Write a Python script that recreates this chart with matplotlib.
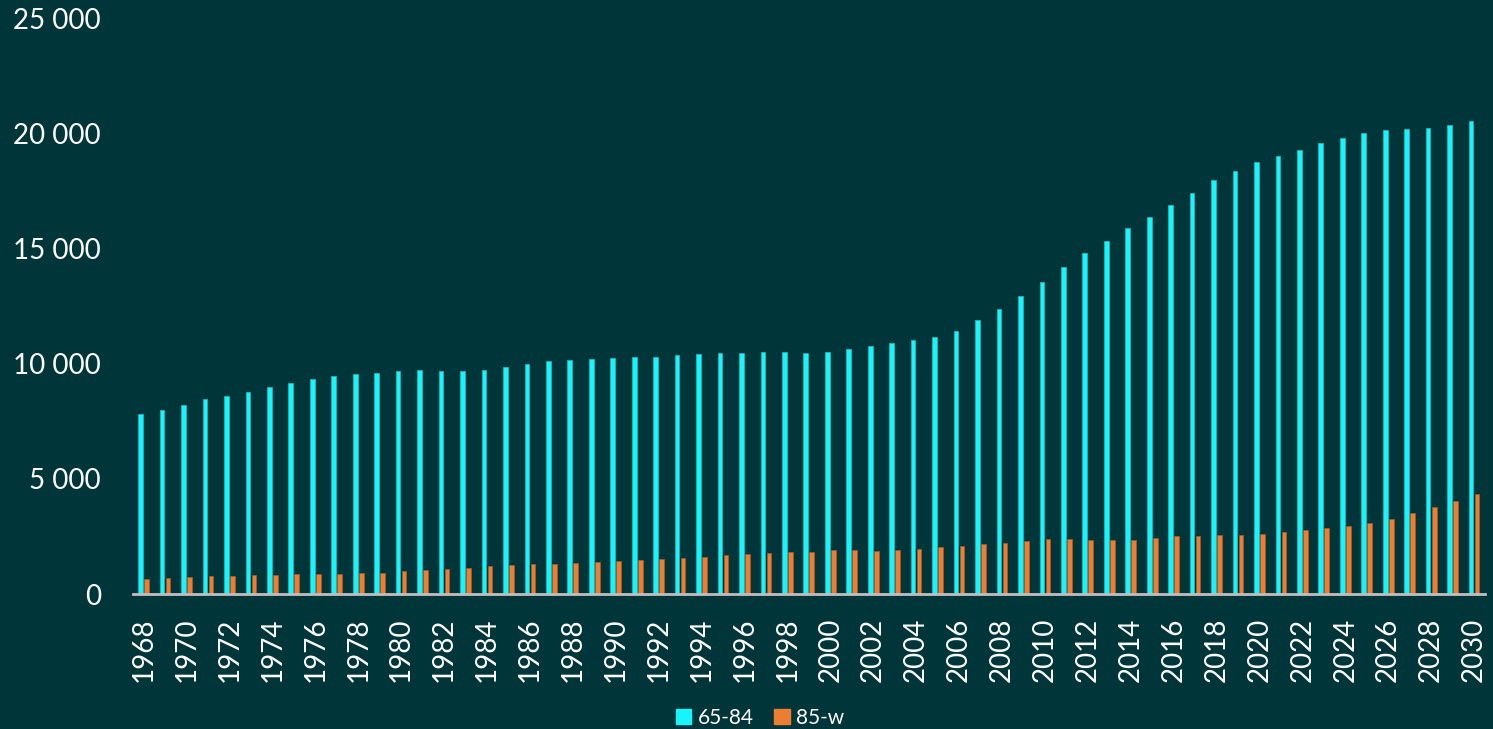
import matplotlib
matplotlib.use("Agg")
import matplotlib.pyplot as plt
import numpy as np
from matplotlib.ticker import FuncFormatter
from matplotlib.patches import Patch

years = list(range(1968, 2031))

age_65_84 = [7830, 8000, 8220, 8460, 8580, 8780, 9000, 9170, 9320, 9460,
             9570, 9620, 9680, 9740, 9700, 9700, 9750, 9880, 9980, 10100,
             10160, 10190, 10240, 10290, 10290, 10370, 10420, 10450, 10450, 10490,
             10490, 10460, 10520, 10630, 10750, 10890, 11020, 11160, 11420, 11890,
             12380, 12960, 13570, 14190, 14830, 15350, 15890, 16360, 16910, 17430,
             17970, 18370, 18740, 19040, 19300, 19590, 19790, 20010, 20140, 20180,
             20240, 20370, 20520]

age_85_w = [640, 710, 750, 780, 780, 820, 830, 880, 880, 880,
            900, 930, 1000, 1040, 1100, 1140, 1220, 1260, 1300, 1300,
            1360, 1410, 1420, 1480, 1520, 1580, 1620, 1680, 1750, 1800,
            1830, 1840, 1900, 1900, 1870, 1910, 1970, 2040, 2100, 2170,
            2230, 2290, 2380, 2390, 2330, 2360, 2360, 2440, 2510, 2520,
            2570, 2570, 2620, 2700, 2770, 2870, 2940, 3070, 3250, 3510,
            3780, 4040, 4330]

series_labels = ["65-84", "85-w"]
tick_years = [str(y) for y in years[::2]]

BG = "#00363A"
CYAN = "#17F5FA"
ORANGE = "#ED7D31"
TXT = "#FFFFFF"

plt.rcParams['font.family'] = ['Lato', 'DejaVu Sans']

fig = plt.figure(figsize=(14.93, 7.29), dpi=100, facecolor=BG)
ax = fig.add_axes([0.089, 0.185, 0.9055, 0.79])
ax.set_facecolor(BG)

x = np.arange(len(years))
w = 0.22
ax.bar(x - 0.14, age_65_84, width=w, color=CYAN, edgecolor="#1AB8BD", linewidth=0.6)
ax.bar(x + 0.14, age_85_w, width=w, color=ORANGE, edgecolor="#A8572A", linewidth=0.6)

ax.set_xlim(-0.5, len(years) - 0.5)
ax.set_ylim(0, 25000)
ax.set_yticks(range(0, 25001, 5000))
ax.yaxis.set_major_formatter(FuncFormatter(lambda v, p: f"{int(v):,}".replace(",", " ")))
ax.set_xticks(x[::2])
ax.set_xticklabels(tick_years, rotation=90)

ax.tick_params(axis='y', length=0, pad=23, labelsize=20, labelcolor=TXT)
ax.tick_params(axis='x', length=0, pad=17, labelsize=20, labelcolor=TXT)

for s in ['top', 'right', 'left']:
    ax.spines[s].set_visible(False)
ax.spines['bottom'].set_color("#BFBFBF")
ax.spines['bottom'].set_linewidth(2)

handles = [Patch(facecolor=CYAN, edgecolor=CYAN), Patch(facecolor=ORANGE, edgecolor=ORANGE)]
leg = fig.legend(handles, series_labels, loc='center', bbox_to_anchor=(0.509, 0.015),
                 ncol=2, frameon=False, fontsize=15, handlelength=0.75, handleheight=0.75,
                 handletextpad=0.3, columnspacing=1.0, labelcolor=TXT)

fig.savefig("out.png", dpi=100, facecolor=BG)
